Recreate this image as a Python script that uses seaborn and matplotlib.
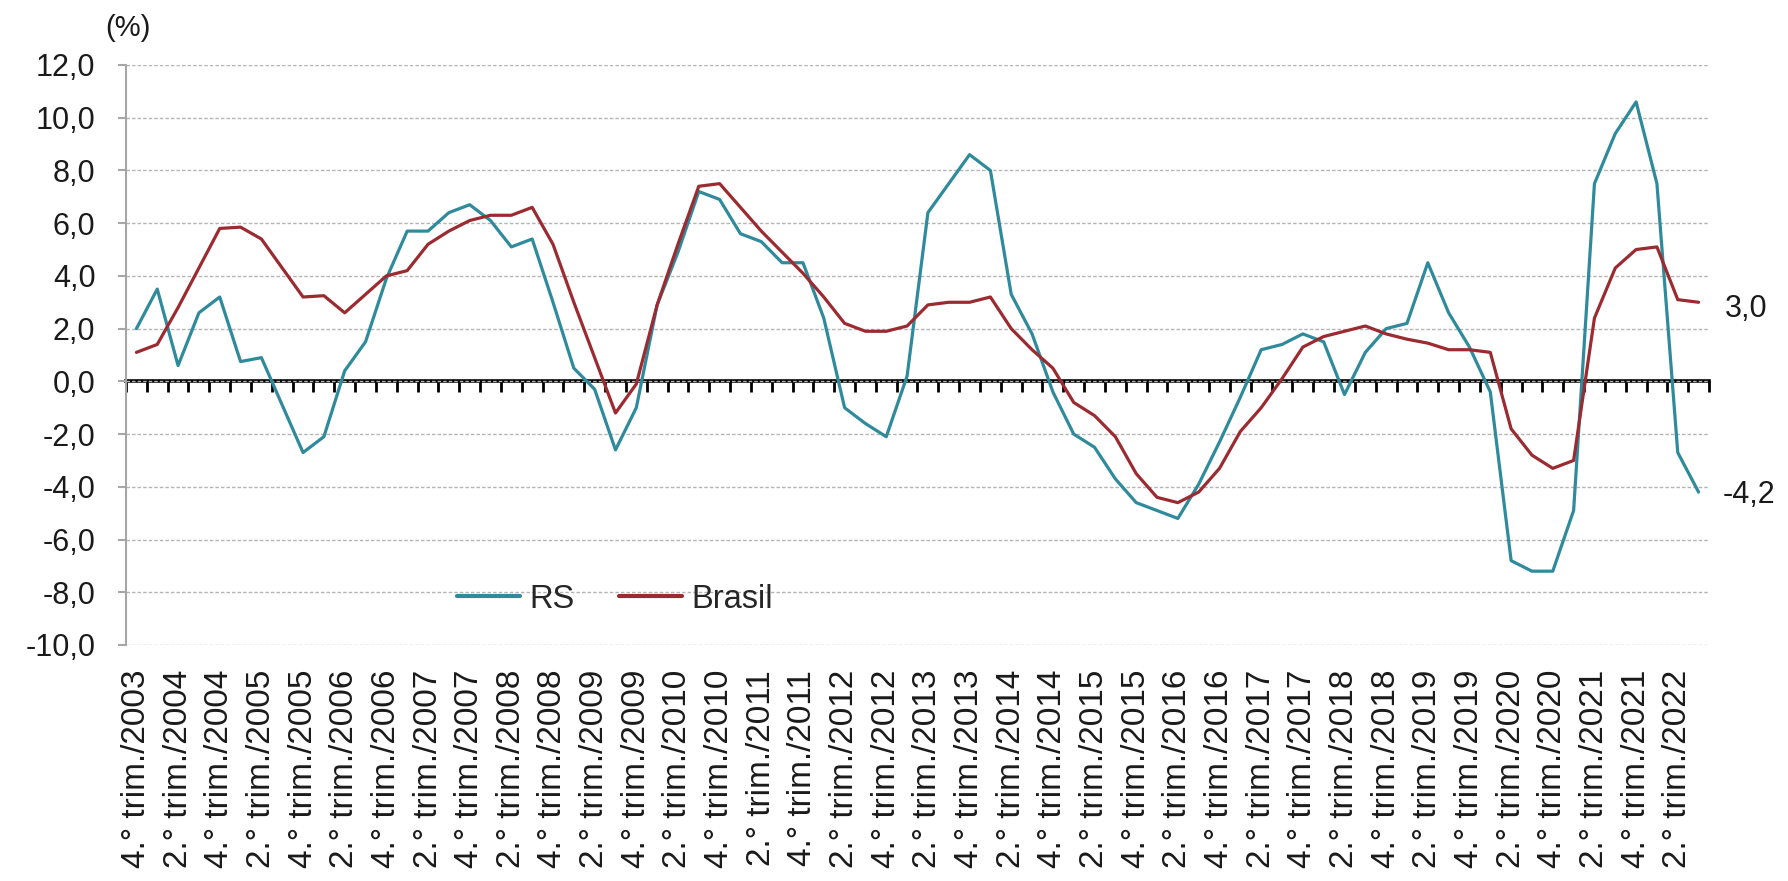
import numpy as np
import pandas as pd
import matplotlib
matplotlib.use("Agg")
import matplotlib.pyplot as plt
import seaborn as sns

# Variação acumulada em 4 trimestres (%), do 4.° trim./2003 ao 3.° trim./2022
rs = [2.0, 3.5, 0.6, 2.6, 3.2, 0.75, 0.9, -0.9, -2.7, -2.1,
      0.4, 1.5, 3.9, 5.7, 5.7, 6.4, 6.7, 6.1, 5.1, 5.4,
      3.0, 0.5, -0.3, -2.6, -1.0, 2.9, 4.9, 7.2, 6.9, 5.6,
      5.3, 4.5, 4.5, 2.4, -1.0, -1.6, -2.1, 0.2, 6.4, 7.5,
      8.6, 8.0, 3.3, 1.8, -0.4, -2.0, -2.5, -3.7, -4.6, -4.9,
      -5.2, -3.9, -2.3, -0.6, 1.2, 1.4, 1.8, 1.5, -0.5, 1.1,
      2.0, 2.2, 4.5, 2.6, 1.3, -0.4, -6.8, -7.2, -7.2, -4.9,
      7.5, 9.4, 10.6, 7.5, -2.7, -4.2]
brasil = [1.1, 1.4, 2.8, 4.3, 5.8, 5.85, 5.4, 4.3, 3.2, 3.25,
          2.6, 3.3, 4.0, 4.2, 5.2, 5.7, 6.1, 6.3, 6.3, 6.6,
          5.2, 3.0, 0.9, -1.2, -0.1, 2.9, 5.2, 7.4, 7.5, 6.6,
          5.7, 4.9, 4.1, 3.2, 2.2, 1.9, 1.9, 2.1, 2.9, 3.0,
          3.0, 3.2, 2.0, 1.2, 0.5, -0.8, -1.3, -2.1, -3.5, -4.4,
          -4.6, -4.2, -3.3, -1.9, -1.0, 0.1, 1.3, 1.7, 1.9, 2.1,
          1.8, 1.6, 1.45, 1.2, 1.2, 1.1, -1.8, -2.8, -3.3, -3.0,
          2.4, 4.3, 5.0, 5.1, 3.1, 3.0]

tick_labels = [
    "4.° trim./2003", "2.° trim./2004", "4.° trim./2004", "2.° trim./2005",
    "4.° trim./2005", "2.° trim./2006", "4.° trim./2006", "2.° trim./2007",
    "4.° trim./2007", "2.° trim./2008", "4.° trim./2008", "2.° trim./2009",
    "4.° trim./2009", "2.° trim./2010", "4.° trim./2010", "2.° trim./2011",
    "4.° trim./2011", "2.° trim./2012", "4.° trim./2012", "2.° trim./2013",
    "4.° trim./2013", "2.° trim./2014", "4.° trim./2014", "2.° trim./2015",
    "4.° trim./2015", "2.° trim./2016", "4.° trim./2016", "2.° trim./2017",
    "4.° trim./2017", "2.° trim./2018", "4.° trim./2018", "2.° trim./2019",
    "4.° trim./2019", "2.° trim./2020", "4.° trim./2020", "2.° trim./2021",
    "4.° trim./2021", "2.° trim./2022",
]

y_ticks = [-10, -8, -6, -4, -2, 0, 2, 4, 6, 8, 10, 12]

RS_COLOR = "#2f8a9c"
BR_COLOR = "#9b2b30"
GRID_COLOR = "#b4b4b4"
AXIS_GRAY = "#a6a6a6"


def fmt(v):
    return f"{v:.1f}".replace(".", ",")


n = len(rs)
idx = np.arange(n)
df = pd.DataFrame({
    "idx": np.concatenate([idx, idx]),
    "valor": rs + brasil,
    "serie": ["RS"] * n + ["Brasil"] * n,
})

sns.set_theme(style="white")
plt.rcParams["font.family"] = ["Liberation Sans", "DejaVu Sans"]

W, H = 1788, 881
fig = plt.figure(figsize=(W / 100, H / 100), dpi=100)
ax = fig.add_axes([126 / W, (H - 645) / H, (1709 - 126) / W, (645 - 65) / H])

sns.lineplot(data=df, x="idx", y="valor", hue="serie",
             palette={"RS": RS_COLOR, "Brasil": BR_COLOR},
             linewidth=2.3, ax=ax, legend=True)

ax.set_xlim(-0.5, n - 0.5)
ax.set_ylim(-10, 12)
ax.set_xlabel("")
ax.set_ylabel("")

# eixo y
ax.set_yticks(y_ticks)
ax.set_yticklabels([fmt(v) for v in y_ticks], fontsize=22, color="#1a1a1a")
ax.tick_params(axis="y", length=6, width=1.5, color=AXIS_GRAY, pad=16, left=True)
ax.yaxis.grid(True, linestyle=(0, (2.5, 1.5)), color=GRID_COLOR, linewidth=1.0)
ax.xaxis.grid(False)
for side in ["top", "right", "bottom"]:
    ax.spines[side].set_visible(False)
ax.spines["left"].set_color(AXIS_GRAY)
ax.spines["left"].set_linewidth(1.5)

# eixo x (rótulos)
ax.set_xticks(idx[::2])
ax.set_xticklabels(tick_labels, rotation=90, fontsize=24, color="#1a1a1a")
ax.tick_params(axis="x", length=0, pad=18)

# linha do zero com marcas de categoria
zero_pos = (0 - (-10)) / (12 - (-10))
sec = ax.secondary_xaxis(zero_pos)
sec.set_alignment("bottom")
sec.spines["bottom"].set_color("black")
sec.spines["bottom"].set_linewidth(2.6)
sec.set_xticks(np.arange(-0.5, n, 1))
sec.tick_params(axis="x", direction="out", length=8, width=2, color="black",
                labelbottom=False, labeltop=False)

# legenda
handles, labels = ax.get_legend_handles_labels()
ax.get_legend().remove()
leg = ax.legend(handles, labels, loc="center left", bbox_to_anchor=(0.209, 0.079),
                frameon=False, fontsize=23.5, ncol=2, handlelength=1.93,
                handletextpad=0.28, columnspacing=1.38, borderpad=0, borderaxespad=0)
for h in leg.legend_handles:
    h.set_linewidth(3)

# valores finais
ax.annotate(fmt(brasil[-1]), xy=(idx[-1], brasil[-1]), xytext=(19, -5),
            textcoords="offset points", ha="left", va="center", fontsize=22,
            color="#1a1a1a", annotation_clip=False)
ax.annotate(fmt(rs[-1]), xy=(idx[-1], rs[-1]), xytext=(17, -2),
            textcoords="offset points", ha="left", va="center", fontsize=22,
            color="#1a1a1a", annotation_clip=False)

fig.text(128 / W, 1 - 28 / H, "(%)", ha="center", va="center", fontsize=21,
         color="#1a1a1a")

fig.savefig("out.png", dpi=100)
